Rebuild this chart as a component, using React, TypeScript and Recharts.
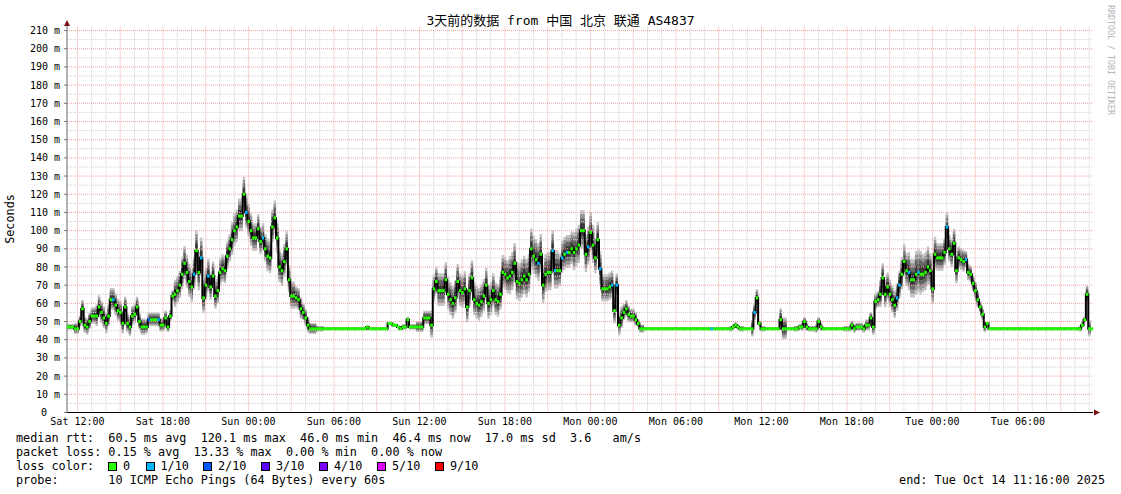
import React from 'react';
import {
  ComposedChart,
  Area,
  Line,
  XAxis,
  YAxis,
  ReferenceLine,
  ReferenceDot,
} from 'recharts';

// median rtt in ms, one value every 10 minutes, starting Sat 11:16
const rttSatDay = [
  47, 47, 47, 46, 46, 50, 57, 48, 47, 50,
  53, 53, 53, 58, 55, 52, 49, 53, 62, 62,
  59, 56, 55, 49, 58, 49, 47, 53, 54, 58,
  50, 47, 47, 47, 51, 51, 51, 51, 51, 48,
  48, 52, 47, 53, 64, 65, 67, 70, 76, 82,
  77, 72, 69, 76, 89, 77, 85, 63, 70, 75,
  69, 75, 64, 67, 77, 79, 78, 86, 90, 95,
  100, 102,
];
const rttSatNight = [
  108, 108, 120, 110, 105, 100, 96, 96,
  101, 94, 96, 90, 86, 85, 102, 107, 96, 80,
  78, 83, 90, 73, 64, 64, 63, 62, 57, 55,
  52, 48, 46, 46, 46, 46, 46, 46, 46, 46,
  46, 46, 46, 46, 46, 46, 46, 46, 46, 46,
  46, 46, 46, 46, 46, 46, 47, 46, 46, 46,
  46, 46, 46, 46, 46, 49, 49, 48, 48, 47,
  46, 47, 47, 51,
];
const rttSunDay = [
  47, 47, 47, 47, 47, 47,
  52, 52, 52, 48, 68, 72, 67, 67, 67, 73,
  65, 62, 60, 63, 72, 67, 66, 68, 58, 67,
  74, 62, 60, 59, 61, 64, 70, 60, 62, 67,
  62, 61, 65, 77, 76, 74, 75, 77, 82, 72,
  71, 73, 75, 73, 76, 90, 86, 84, 82, 87,
  70, 76, 77, 77, 89, 78, 78, 78, 85, 87,
  88, 88, 90, 88, 90, 92,
];
const rttSunNight = [
  100, 100, 87, 91, 99, 92, 85, 95, 79, 68,
  68, 68, 69, 70, 56, 70, 48, 52, 55, 57,
  54, 53, 53, 51, 49, 46, 46, 46, 46, 46,
  46, 46, 46, 46, 46, 46, 46, 46, 46, 46,
  46, 46, 46, 46, 46, 46, 46, 46, 46, 46,
  46, 46, 46, 46, 46, 46, 46, 46, 46, 46,
  46, 46, 46, 46, 47, 48, 47, 46, 46, 46,
  46, 46,
];
const rttMonDay = [
  46, 55, 63, 49, 46, 46, 46, 46, 46, 46,
  46, 46, 51, 46, 46, 46, 46, 46, 46, 46,
  47, 47, 50, 47, 46, 46, 46, 46, 50, 47,
  46, 46, 46, 46, 46, 46, 46, 46, 46, 46,
  46, 46, 48, 46, 47, 47, 47, 46, 48, 48,
  52, 47, 61, 62, 65, 74, 65, 69, 65, 62,
  59, 63, 70, 76, 83, 78, 77, 73, 73, 76,
  77, 76,
];
const rttMonNight = [
  76, 77, 80, 78, 68, 87, 85, 85, 85, 88,
  102, 90, 87, 93, 78, 85, 84, 83, 84, 77,
  76, 71, 67, 62, 58, 54, 47, 49, 46, 46,
  46, 46, 46, 46, 46, 46, 46, 46, 46, 46,
  46, 46, 46, 46, 46, 46, 46, 46, 46, 46,
  46, 46, 46, 46, 46, 46, 46, 46, 46, 46,
  46, 46, 46, 46, 46, 46, 46, 48, 51, 65,
  46, 46,
];

// width of the ping smoke (ms), one value per half hour
const smokeSat = [
  2, 4, 6, 6, 8, 8, 8, 8, 7, 7, 6, 5,
  5, 5, 4, 10, 12, 12, 14, 12, 10, 10, 10, 12,
  12, 12, 10, 10, 12, 12, 12, 10, 8, 6, 4, 2,
  1, 1, 1, 1, 1, 1, 1, 1, 1, 1, 1, 2,
];
const smokeSun = [
  2, 4, 5, 10, 12, 12, 12, 12, 12, 12, 12, 12,
  12, 12, 14, 14, 14, 14, 14, 14, 14, 12, 12, 14,
  14, 14, 12, 10, 10, 8, 6, 5, 3, 1, 1, 1,
  1, 1, 1, 1, 1, 1, 1, 1, 1, 2, 2, 1,
];
const smokeMon = [
  6, 2, 1, 1, 8, 1, 2, 3, 2, 3, 1, 1,
  1, 2, 3, 3, 4, 6, 10, 10, 10, 12, 14, 16,
  14, 12, 10, 10, 10, 8, 6, 6, 4, 1, 1, 1,
  1, 1, 1, 1, 1, 1, 1, 1, 1, 1, 2, 6,
];

// samples (10-minute index) that lost pings
const lossOneTenth = [19, 38, 53, 56, 59, 75, 82, 198, 204, 205, 208, 210, 219, 224, 229, 231, 271, 289, 349, 350, 354, 358, 370, 378];
const lossTwoTenths = [34];

const tickLabels = ['Sat 12:00', 'Sat 18:00', 'Sun 00:00', 'Sun 06:00', 'Sun 12:00', 'Sun 18:00', 'Mon 00:00', 'Mon 06:00', 'Mon 12:00', 'Mon 18:00', 'Tue 00:00', 'Tue 06:00'];
const yTicks = [0, 10, 20, 30, 40, 50, 60, 70, 80, 90, 100, 110, 120, 130, 140, 150, 160, 170, 180, 190, 200, 210];

const lossNames = ['0', '1/10', '2/10', '3/10', '4/10', '5/10', '9/10'];
const lossColors = ['#26ff00', '#00b8ff', '#0059ff', '#5e00ff', '#7e00ff', '#dd00ff', '#ff0000'];
const lossLegendX = [123, 160.5, 218, 276, 334, 392, 450];

const FIRST_TICK = 44 / 60; // Sat 11:16 -> Sat 12:00
const FONT = "'DejaVu Sans Mono', 'Noto Sans CJK SC', monospace";
const RED = '#f3a0a0';
const GREY = '#cfcfcf';

const rtt = [...rttSatDay, ...rttSatNight, ...rttSunDay, ...rttSunNight, ...rttMonDay, ...rttMonNight];
const smoke = [...smokeSat, ...smokeSun, ...smokeMon];

const rows = rtt.map((m, i) => {
  const s = smoke[Math.floor(i / 3)];
  const loss = lossTwoTenths.includes(i) ? 2 : lossOneTenth.includes(i) ? 1 : 0;
  return {
    t: i / 6,
    rtt: m,
    loss,
    s1: [m - 0.7 * s, m + 0.8 * s],
    s2: [m - 0.55 * s, m + 0.65 * s],
    s3: [m - 0.38 * s, m + 0.48 * s],
    s4: [m - 0.2 * s, m + 0.28 * s],
  };
});

const xTicks = tickLabels.map((_, k) => FIRST_TICK + 6 * k);
const hourLines: number[] = [];
for (let h = FIRST_TICK; h < 72; h += 1) hourLines.push(h);
const halfTens: number[] = [];
for (let v = 5; v <= 210; v += 5) halfTens.push(v);

const smokeBands = [
  { key: 's1', color: '#c4c4c4' },
  { key: 's2', color: '#969696' },
  { key: 's3', color: '#666666' },
  { key: 's4', color: '#383838' },
];

function renderMark(p: any) {
  const { cx, cy, payload, index } = p;
  if (cx == null || cy == null) return <g key={index} />;
  return (
    <rect
      key={index}
      x={cx - 0.1}
      y={cy - 1.5}
      width={2.6}
      height={3}
      fill={lossColors[payload.loss]}
    />
  );
}

// y labels: the number is right-aligned, "0" has no unit so it sits left of the " m" column
function YTick(p: any) {
  const v = p.payload.value;
  return (
    <text
      x={p.x - (v === 0 ? 13 : 0)}
      y={p.y}
      dy="0.355em"
      textAnchor="end"
      fontFamily={FONT}
      fontSize={10}
      fill="#000"
    >
      {v === 0 ? '0' : `${v} m`}
    </text>
  );
}

const legendRow: React.CSSProperties = {
  position: 'absolute',
  left: 16,
  fontFamily: FONT,
  fontSize: 11.8,
  lineHeight: '14px',
  whiteSpace: 'pre',
  color: '#000',
};

export default function App() {
  return (
    <div style={{ position: 'relative', width: 1121, height: 494, background: '#fff', overflow: 'hidden' }}>
      <style>{'body{margin:0}'}</style>
      <div
        style={{
          position: 'absolute',
          top: 13,
          left: 0,
          width: 1121,
          textAlign: 'center',
          fontFamily: FONT,
          fontSize: 13,
          lineHeight: '16px',
          color: '#000',
        }}
      >
        3天前的数据 from 中国 北京 联通 AS4837
      </div>

      <ComposedChart
        width={1121}
        height={494}
        data={rows}
        margin={{ top: 26, right: 28, bottom: 61.5, left: 8 }}
      >
        {hourLines.map((h, k) => (
          <ReferenceLine
            key={`vx${k}`}
            x={h}
            stroke={k % 3 === 0 ? RED : GREY}
            strokeDasharray="1 1"
          />
        ))}
        {halfTens.map((v) => (
          <ReferenceLine
            key={`hy${v}`}
            y={v}
            stroke={v % 10 === 0 ? RED : GREY}
            strokeDasharray="1 1"
          />
        ))}
        <XAxis
          dataKey="t"
          type="number"
          domain={[0, 72]}
          ticks={xTicks}
          tickFormatter={(v: number) => tickLabels[Math.round((v - FIRST_TICK) / 6)]}
          tick={{ fontFamily: FONT, fontSize: 10, fill: '#000' }}
          tickLine={false}
          tickSize={0}
          tickMargin={5}
          height={20}
          axisLine={{ stroke: '#000' }}
          interval={0}
        />
        <YAxis
          type="number"
          domain={[0, 212.5]}
          ticks={yTicks}
          allowDataOverflow
          width={59}
          tick={YTick}
          tickSize={3}
          tickMargin={4}
          tickLine={{ stroke: '#777' }}
          axisLine={{ stroke: '#666' }}
          interval={0}
        />
        {smokeBands.map((b) => (
          <Area
            key={b.key}
            dataKey={b.key}
            type="stepAfter"
            stroke="none"
            fill={b.color}
            fillOpacity={1}
            dot={false}
            activeDot={false}
            isAnimationActive={false}
          />
        ))}
        <Line
          dataKey="rtt"
          type="stepAfter"
          stroke="#000"
          strokeWidth={2}
          dot={renderMark}
          activeDot={false}
          isAnimationActive={false}
        />
        <ReferenceDot
          x={0}
          y={212.5}
          ifOverflow="visible"
          shape={(p: any) => (
            <path d={`M${p.cx - 3},${p.cy} L${p.cx + 3},${p.cy} L${p.cx},${p.cy - 6} Z`} fill="#7a1212" />
          )}
        />
        <ReferenceDot
          x={72}
          y={0}
          ifOverflow="visible"
          shape={(p: any) => (
            <path d={`M${p.cx + 1},${p.cy - 3} L${p.cx + 1},${p.cy + 3} L${p.cx + 7},${p.cy} Z`} fill="#7a1212" />
          )}
        />
      </ComposedChart>

      <div
        style={{
          position: 'absolute',
          left: 10,
          top: 219,
          transform: 'translate(-50%, -50%) rotate(-90deg)',
          fontFamily: FONT,
          fontSize: 11.8,
          whiteSpace: 'pre',
          color: '#000',
        }}
      >
        Seconds
      </div>
      <div
        style={{
          position: 'absolute',
          left: 1111,
          top: 60,
          transform: 'translate(-50%, -50%) rotate(90deg)',
          fontFamily: FONT,
          fontSize: 8.3,
          whiteSpace: 'pre',
          color: '#b4b4b4',
        }}
      >
        RRDTOOL / TOBI OETIKER
      </div>

      <div style={{ ...legendRow, top: 431 }}>
        {'median rtt:  60.5 ms avg  120.1 ms max  46.0 ms min  46.4 ms now  17.0 ms sd  3.6   am/s'}
      </div>
      <div style={{ ...legendRow, top: 445 }}>
        {'packet loss: 0.15 % avg  13.33 % max  0.00 % min  0.00 % now'}
      </div>
      <div style={{ ...legendRow, top: 459 }}>{'loss color:'}</div>
      {lossNames.map((name, k) => (
        <React.Fragment key={name}>
          <div
            style={{
              position: 'absolute',
              left: lossLegendX[k] - 15,
              top: 462,
              width: 7,
              height: 7,
              border: '1px solid #000',
              background: lossColors[k],
            }}
          />
          <div style={{ ...legendRow, left: lossLegendX[k], top: 459 }}>{name}</div>
        </React.Fragment>
      ))}
      <div style={{ ...legendRow, top: 473 }}>
        {'probe:       10 ICMP Echo Pings (64 Bytes) every 60s'}
      </div>
      <div style={{ ...legendRow, left: 'auto', right: 16, top: 473 }}>
        {'end: Tue Oct 14 11:16:00 2025'}
      </div>
    </div>
  );
}
